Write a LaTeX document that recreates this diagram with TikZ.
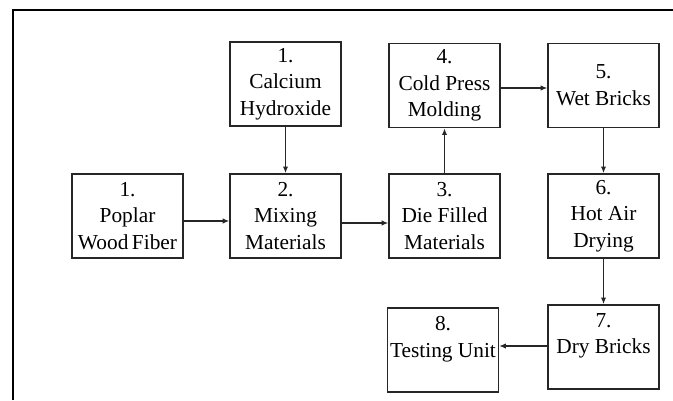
\documentclass[tikz,border=0pt]{standalone}
\usepackage{fontspec}
\setmainfont{Liberation Serif}
\usetikzlibrary{arrows.meta}
\tikzset{>={Latex[length=5pt,width=4pt]}}
\colorlet{boxline}{black!85}
\tikzset{
  stage/.style = {
    draw=boxline, line width=1.2pt,
    minimum width=83pt, minimum height=63pt,
    inner sep=1pt, align=center,
    font=\fontsize{16}{20}\selectfont
  },
  flow/.style = {->, line width=1.1pt, color=boxline}
}

\begin{document}
\begin{tikzpicture}[x=0.75pt,y=-0.75pt]
  \useasboundingbox (0,0) rectangle (673,400);
  % frame
  \draw[line width=1.5pt] (13,400) -- (13,10) -- (673,10);
  % stages
  \node[stage] (calcium) at (285.5,84) {1.\\Calcium\\Hydroxide};
  \node[stage] (poplar) at (127.5,216) {1.\\Poplar\\Wood\,Fiber};
  \node[stage] (mixing) at (285.5,216) {2.\\Mixing\\Materials};
  \node[stage] (die) at (444.5,216) {3.\\Die Filled\\Materials};
  \node[stage] (cold) at (444.5,85.5) {4.\\Cold Press\\Molding};
  \node[stage] (wet) at (603.5,85.5) {5.\\Wet Bricks};
  \node[stage] (hot) at (603.5,216) {6.\\Hot Air\\Drying};
  \node[stage] (dry) at (603.5,347) {7.\\Dry Bricks\\~};
  \node[stage] (testing) at (443,350) {8.\\Testing Unit\\~};
  % flow
  \draw[flow] (calcium) -- (mixing);
  \draw[flow] (poplar.east |- 0,221) -- (mixing.west |- 0,221);
  \draw[flow] (mixing.east |- 0,223) -- (die.west |- 0,223);
  \draw[flow] (die) -- (cold);
  \draw[flow] (cold.east |- 0,88) -- (wet.west |- 0,88);
  \draw[flow] (wet) -- (hot);
  \draw[flow] (hot) -- (dry);
  \draw[flow] (dry.west |- 0,346) -- (testing.east |- 0,346);
\end{tikzpicture}
\end{document}
